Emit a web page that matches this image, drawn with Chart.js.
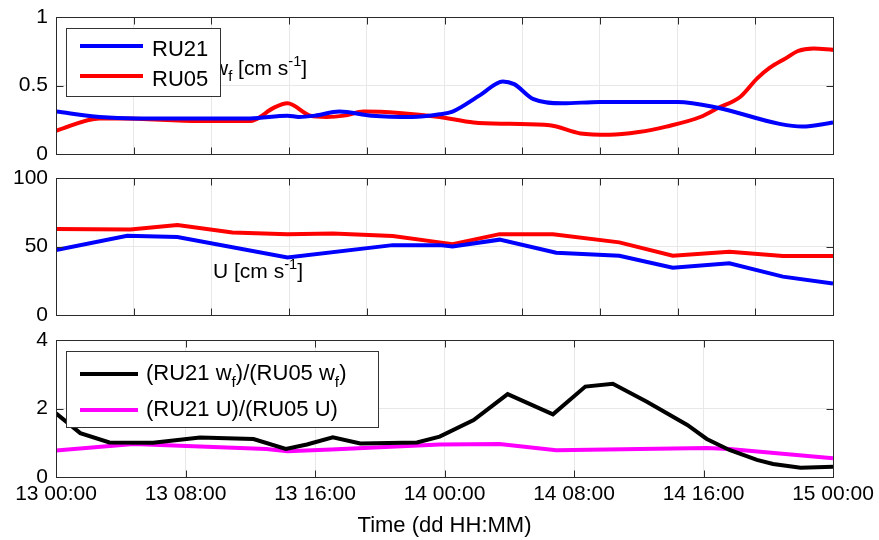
<!DOCTYPE html>
<html>
<head>
<meta charset="utf-8">
<script src="https://cdn.jsdelivr.net/npm/chart.js@4"></script>
<style>
  body { margin: 0; background: #fff; }
  #wrap { position: relative; width: 879px; height: 540px; }
  canvas { position: absolute; left: 0; }
</style>
</head>
<body>
<div id="wrap">
  <canvas id="p1" width="879" height="165" style="top:0"></canvas>
  <canvas id="p2" width="879" height="165" style="top:165px"></canvas>
  <canvas id="p3" width="879" height="210" style="top:330px"></canvas>
</div>
<script>
// hours since 13 00:00
const wfHoursRU21 = [0, 2.7, 5, 8, 12, 14.3, 15, 16, 17.5, 19.5, 22, 23.7, 24.5, 26.2, 27.6, 28.3, 29.5, 31.3, 33.6, 38.4, 40.8, 44.7, 46.1, 48];
const wfRU21      = [0.31, 0.27, 0.26, 0.26, 0.26, 0.28, 0.27, 0.28, 0.31, 0.28, 0.27, 0.29, 0.31, 0.43, 0.53, 0.51, 0.40, 0.37, 0.38, 0.38, 0.34, 0.22, 0.20, 0.23];

const wfHoursRU05 = [0, 2.7, 4, 8.9, 12, 12.3, 13.5, 14.3, 15.7, 16.7, 17.8, 19, 21.2, 23.7, 25.8, 28, 30.5, 32.4, 34.2, 36, 37.7, 39.8, 40.8, 42.3, 43.3, 44.1, 45.1, 45.8, 46.8, 48];
const wfRU05      = [0.17, 0.26, 0.26, 0.24, 0.24, 0.25, 0.34, 0.37, 0.28, 0.27, 0.28, 0.31, 0.30, 0.27, 0.23, 0.22, 0.21, 0.15, 0.14, 0.16, 0.20, 0.27, 0.33, 0.42, 0.55, 0.63, 0.70, 0.75, 0.77, 0.76];

const uHoursRU21 = [0, 4.4, 7.5, 14.3, 20.8, 23.7, 24.5, 27.4, 30.9, 34.8, 38.1, 41.6, 44.9, 48];
const uRU21      = [47.4, 57.9, 57, 42, 51, 51, 50, 55, 45.5, 43.3, 34.5, 37.7, 28, 23];

const uHoursRU05 = [0, 4.6, 7.5, 10.9, 14.3, 17.1, 20.8, 23.7, 24.5, 27.4, 30.7, 34.8, 38.1, 41.6, 44.9, 48];
const uRU05      = [62.8, 62.5, 65.7, 60.3, 59, 59.5, 57.6, 53, 51.6, 59, 59, 53, 43.3, 46.2, 43, 43];

const ratioWfHours = [0, 1.5, 3.3, 6, 8.9, 12.2, 14.2, 15.5, 17.1, 18.8, 22.3, 23.7, 25.8, 27.9, 30.7, 32.7, 34.4, 36.5, 39, 40.2, 41.6, 43.3, 44.3, 46, 48];
const ratioWf      = [1.86, 1.28, 1.01, 1.0, 1.15, 1.11, 0.82, 0.95, 1.16, 0.98, 1.01, 1.18, 1.66, 2.42, 1.83, 2.64, 2.72, 2.2, 1.52, 1.11, 0.79, 0.5, 0.38, 0.27, 0.3];

const ratioUHours = [0, 4.8, 13, 14.3, 17, 23.7, 27.4, 30.9, 40.2, 41.6, 48];
const ratioU      = [0.77, 0.96, 0.82, 0.75, 0.8, 0.95, 0.96, 0.78, 0.85, 0.82, 0.55];

const timeLabels = ["13 00:00", "13 08:00", "13 16:00", "14 00:00", "14 08:00", "14 16:00", "15 00:00"];

const FONT = '"Liberation Sans", Arial, Helvetica, sans-serif';

function pts(xs, ys) {
  return xs.map((x, i) => ({ x: x, y: ys[i] }));
}

// text with _{sub} and ^{sup}
function drawRich(ctx, str, x, y, size) {
  const parts = str.split(/([_^]\{[^}]*\})/).filter(Boolean);
  let cx = x;
  parts.forEach(p => {
    let txt = p, dy = 0, fs = size;
    if (p[0] === "_") { txt = p.slice(2, -1); dy = size * 0.3; fs = size * 0.7; }
    else if (p[0] === "^") { txt = p.slice(2, -1); dy = -size * 0.45; fs = size * 0.7; }
    ctx.font = fs + "px " + FONT;
    ctx.fillText(txt, cx, y + dy);
    cx += ctx.measureText(txt).width;
  });
}

function line(ctx, x1, y1, x2, y2) {
  ctx.beginPath();
  ctx.moveTo(x1, y1);
  ctx.lineTo(x2, y2);
  ctx.stroke();
}

// keep the plot area exactly where the layout padding puts it
function noOverhang(s) {
  s.paddingTop = 0;
  s.paddingBottom = 0;
  s.paddingLeft = 0;
  s.paddingRight = 0;
}

const panelDeco = {
  id: "panelDeco",
  afterDraw(chart, args, opts) {
    const ctx = chart.ctx, a = chart.chartArea, sx = chart.scales.x, sy = chart.scales.y;
    ctx.save();
    ctx.textBaseline = "alphabetic";
    ctx.textAlign = "left";
    ctx.fillStyle = "#000";

    if (opts.note) {
      drawRich(ctx, opts.note.text, sx.getPixelForValue(opts.note.x), sy.getPixelForValue(opts.note.y), 21);
    }

    if (opts.legend) {
      const L = opts.legend;
      const bx = Math.round(a.left + L.dx), by = Math.round(a.top + L.dy);
      ctx.fillStyle = "#fff";
      ctx.fillRect(bx, by, L.w, L.h);
      ctx.strokeStyle = "#333";
      ctx.lineWidth = 1;
      ctx.strokeRect(bx + 0.5, by + 0.5, L.w, L.h);
      chart.data.datasets.forEach((ds, i) => {
        const cy = by + L.first + i * L.gap;
        ctx.strokeStyle = ds.borderColor;
        ctx.lineWidth = ds.borderWidth;
        line(ctx, bx + 14, cy, bx + 14 + L.sample, cy);
        ctx.fillStyle = "#000";
        drawRich(ctx, ds.label, bx + 14 + L.sample + L.gapText, cy + L.base, L.size);
      });
    }

    // box and inward ticks
    ctx.strokeStyle = "#2a2a2a";
    ctx.lineWidth = 1;
    const l = Math.round(a.left) + 0.5, r = Math.round(a.right) + 0.5;
    const t = Math.round(a.top) + 0.5, b = Math.round(a.bottom) + 0.5;
    ctx.strokeRect(l, t, r - l, b - t);
    sx.ticks.forEach(tk => {
      const px = Math.round(sx.getPixelForValue(tk.value)) + 0.5;
      line(ctx, px, b, px, b - 7);
      line(ctx, px, t, px, t + 7);
    });
    sy.ticks.forEach(tk => {
      const py = Math.round(sy.getPixelForValue(tk.value)) + 0.5;
      line(ctx, l, py, l + 7, py);
      line(ctx, r, py, r - 7, py);
    });
    ctx.restore();
  }
};

function serie(label, xs, ys, color, smooth) {
  return {
    label: label,
    data: pts(xs, ys),
    borderColor: color,
    borderWidth: 4,
    pointRadius: 0,
    fill: false,
    tension: smooth ? 0.4 : 0,
    cubicInterpolationMode: smooth ? "monotone" : "default"
  };
}

function makePanel(id, datasets, yMax, yStep, padding, xAxis, deco) {
  return new Chart(document.getElementById(id), {
    type: "line",
    data: { datasets: datasets },
    options: {
      responsive: false,
      animation: false,
      devicePixelRatio: 1,
      layout: { padding: padding },
      plugins: { legend: { display: false }, tooltip: { enabled: false }, panelDeco: deco },
      scales: {
        x: xAxis,
        y: {
          type: "linear",
          min: 0,
          max: yMax,
          afterFit: s => { s.width = 56; noOverhang(s); },
          border: { display: false },
          grid: { color: "#e8e8e8", drawTicks: false },
          ticks: {
            stepSize: yStep,
            padding: 8,
            color: "#000",
            font: { family: FONT, size: 21 },
            callback: v => String(v)
          }
        }
      }
    },
    plugins: [panelDeco]
  });
}

const hiddenX = {
  type: "linear",
  min: 0,
  max: 48,
  afterFit: s => { s.height = 0; noOverhang(s); },
  border: { display: false },
  grid: { color: "#e8e8e8", drawTicks: false },
  ticks: { count: 11, display: false }
};

makePanel("p1", [
  serie("RU21", wfHoursRU21, wfRU21, "#0000ff", true),
  serie("RU05", wfHoursRU05, wfRU05, "#ff0000", true)
], 1, 0.5, { top: 17, bottom: 11, left: 0, right: 46 }, hiddenX, {
  note: { text: "w_{f} [cm s^{-1}]", x: 9.7, y: 0.577 },
  legend: { dx: 10, dy: 11, w: 154, h: 68, first: 18, gap: 30, sample: 63, gapText: 9, base: 10, size: 22 }
});

makePanel("p2", [
  serie("RU21", uHoursRU21, uRU21, "#0000ff", false),
  serie("RU05", uHoursRU05, uRU05, "#ff0000", false)
], 100, 50, { top: 13, bottom: 15, left: 0, right: 46 }, hiddenX, {
  note: { text: "U [cm s^{-1}]", x: 9.7, y: 27 }
});

makePanel("p3", [
  serie("(RU21 w_{f})/(RU05 w_{f})", ratioWfHours, ratioWf, "#000000", false),
  serie("(RU21 U)/(RU05 U)", ratioUHours, ratioU, "#ff00ff", false)
], 4, 2, { top: 10, bottom: 0, left: 0, right: 46 }, {
  type: "linear",
  min: 0,
  max: 48,
  afterFit: s => { s.height = 63; noOverhang(s); },
  border: { display: false },
  grid: { color: "#e8e8e8", drawTicks: false },
  ticks: {
    stepSize: 8,
    autoSkip: false,
    maxRotation: 0,
    padding: 5,
    color: "#000",
    font: { family: FONT, size: 21 },
    callback: (v, i) => timeLabels[i]
  },
  title: {
    display: true,
    text: "Time (dd HH:MM)",
    color: "#000",
    font: { family: FONT, size: 22 },
    padding: { top: 0, bottom: 1 }
  }
}, {
  legend: { dx: 10, dy: 11, w: 312, h: 76, first: 23, gap: 36, sample: 58, gapText: 8, base: 6, size: 22 }
});
</script>
</body>
</html>
